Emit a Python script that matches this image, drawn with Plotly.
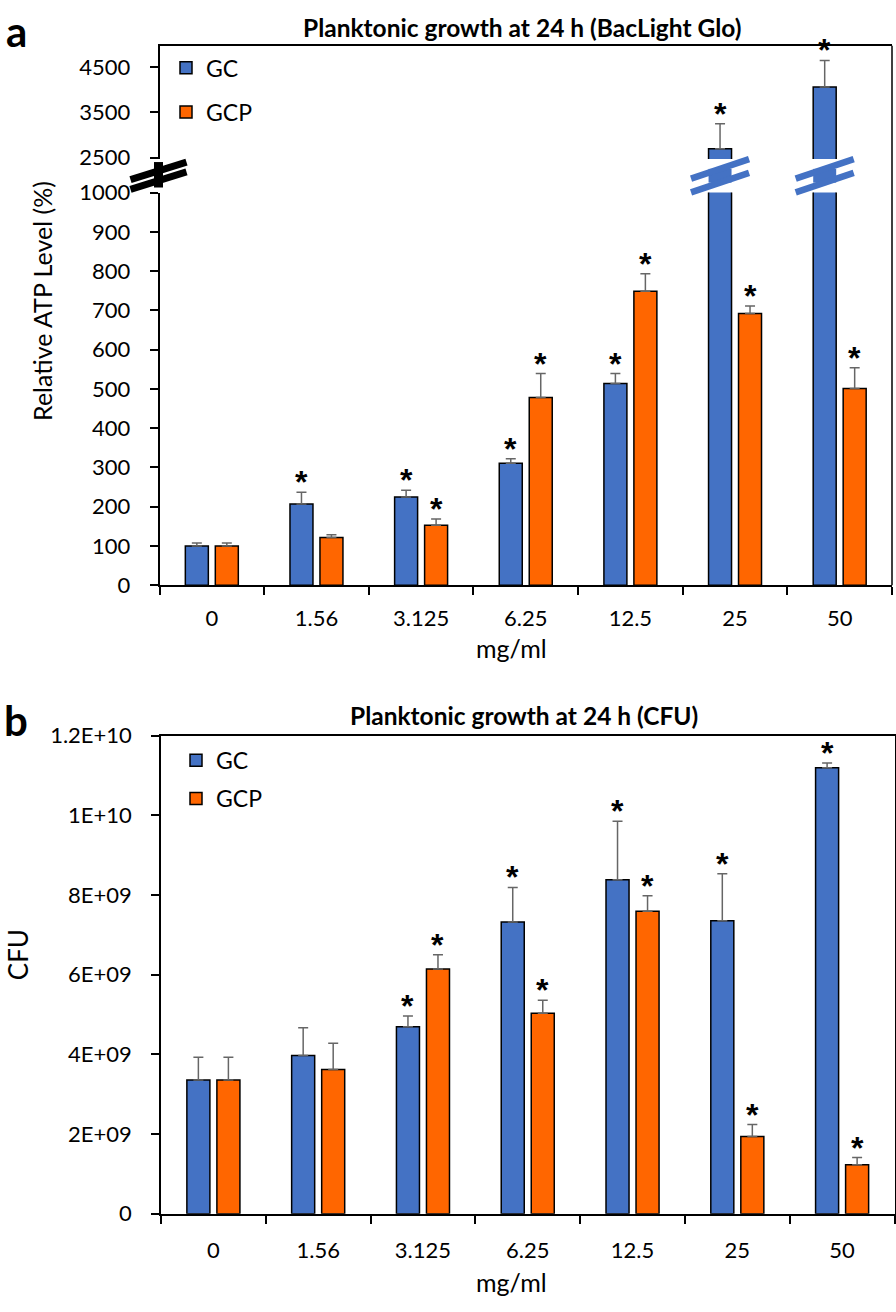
import plotly.graph_objects as go

# concentrations (mg/ml)
conc = ["0", "1.56", "3.125", "6.25", "12.5", "25", "50"]

# panel a: relative ATP level (%)
atp_gc = [100, 207, 225, 311, 514, 2700, 4060]
atp_gc_err = [8, 30, 17, 11, 25, 550, 590]
atp_gcp = [100, 122, 153, 478, 749, 692, 501]
atp_gcp_err = [8, 7, 16, 61, 44, 19, 53]
atp_gc_sig = [False, True, True, True, True, True, True]
atp_gcp_sig = [False, False, True, True, True, True, True]

# panel b: CFU
cfu_gc = [3.36e9, 3.97e9, 4.69e9, 7.32e9, 8.38e9, 7.35e9, 11.19e9]
cfu_gc_err = [0.57e9, 0.70e9, 0.27e9, 0.87e9, 1.47e9, 1.18e9, 0.12e9]
cfu_gcp = [3.36e9, 3.62e9, 6.14e9, 5.03e9, 7.59e9, 1.94e9, 1.23e9]
cfu_gcp_err = [0.57e9, 0.66e9, 0.36e9, 0.33e9, 0.39e9, 0.30e9, 0.18e9]
cfu_gc_sig = [False, False, True, True, True, True, True]
cfu_gcp_sig = [False, False, True, True, True, True, True]

cfu_ticks = [0, 2e9, 4e9, 6e9, 8e9, 1e10, 1.2e10]
cfu_ticktext = ["0", "2E+09", "4E+09", "6E+09", "8E+09", "1E+10", "1.2E+10"]

BLUE = "#4472C4"
ORANGE = "#FF6600"
ERR = "#666666"
FONT = "Lato"
STAR_FONT = "Liberation Sans"
W, H = 896, 1312

LOW_MAX = 1000
UP_RANGE = [2472, 4976]


def px(x):
    return x / W


def py(y):
    return 1 - y / H


# layout positions in pixels
A_LEFT, A_RIGHT = 159.5, 892
A_BOT, A_LOWTOP, A_UPBOT, A_TOP = 583.3, 182.3, 148, 32.3
B_LEFT, B_RIGHT = 161, 894.5
B_BOT, B_TOP = 1225, 736.7

fig = go.Figure()


def bar(name, xs, ys, errs, color, xaxis, yaxis, legend, show):
    fig.add_trace(go.Bar(
        x=xs, y=ys, name=name, marker=dict(color=color, line=dict(color="black", width=1.5)),
        error_y=dict(type="data", array=errs, arrayminus=[0] * len(errs), symmetric=False,
                     color=ERR, thickness=1.5, width=5),
        xaxis=xaxis, yaxis=yaxis, legend=legend, showlegend=show, offsetgroup=name,
    ))


# panel a, lower segment (0-1000)
low_gc_err = [e if v <= LOW_MAX else 0 for v, e in zip(atp_gc, atp_gc_err)]
low_gcp_err = [e if v <= LOW_MAX else 0 for v, e in zip(atp_gcp, atp_gcp_err)]
bar("GC", conc, atp_gc, low_gc_err, BLUE, "x", "y", "legend", True)
bar("GCP", conc, atp_gcp, low_gcp_err, ORANGE, "x", "y", "legend2", True)
# panel a, upper segment
up_gc_err = [e if v > LOW_MAX else 0 for v, e in zip(atp_gc, atp_gc_err)]
up_gcp_err = [e if v > LOW_MAX else 0 for v, e in zip(atp_gcp, atp_gcp_err)]
bar("GC", conc, atp_gc, up_gc_err, BLUE, "x2", "y2", "legend", False)
bar("GCP", conc, atp_gcp, up_gcp_err, ORANGE, "x2", "y2", "legend2", False)
# panel b
bar("GC", conc, cfu_gc, cfu_gc_err, BLUE, "x3", "y3", "legend3", True)
bar("GCP", conc, cfu_gcp, cfu_gcp_err, ORANGE, "x3", "y3", "legend4", True)

tickfont = dict(family=FONT, size=22, color="black")
axis_common = dict(showline=True, linecolor="black", linewidth=1.5, ticks="outside",
                   ticklen=8, tickcolor="black", tickwidth=1.5, tickfont=tickfont,
                   showgrid=False, zeroline=False)

fig.update_layout(
    width=W, height=H, autosize=False,
    margin=dict(l=0, r=0, t=0, b=0),
    paper_bgcolor="white", plot_bgcolor="white",
    barmode="group", bargap=0.427, bargroupgap=0.233,
    font=dict(family=FONT, color="black"),
    xaxis=dict(domain=[px(A_LEFT), px(A_RIGHT)], anchor="y", type="category",
               tickson="boundaries", ticklabelstandoff=13, **axis_common),
    xaxis2=dict(domain=[px(A_LEFT), px(A_RIGHT)], anchor="y2", matches="x", side="top",
                showline=True, linecolor="black", linewidth=1.5, showticklabels=False,
                ticks="", showgrid=False, zeroline=False),
    yaxis=dict(domain=[py(A_BOT), py(A_LOWTOP)], anchor="x", range=[0, LOW_MAX],
               dtick=100, ticklabelstandoff=15, **axis_common),
    yaxis2=dict(domain=[py(A_UPBOT), py(A_TOP)], anchor="x2", range=UP_RANGE,
                tick0=2500, dtick=1000, ticklabelstandoff=15, **axis_common),
    xaxis3=dict(domain=[px(B_LEFT), px(B_RIGHT)], anchor="y3", type="category",
                tickson="boundaries", mirror=True, ticklabelstandoff=16, **axis_common),
    yaxis3=dict(domain=[py(B_BOT), py(B_TOP)], anchor="x3", range=[0, 1.2e10],
                tickvals=cfu_ticks, ticktext=cfu_ticktext, mirror=True,
                ticklabelstandoff=15, **axis_common),
)

legend_style = dict(font=dict(family=FONT, size=23, color="black"), bgcolor="rgba(0,0,0,0)",
                    xanchor="left", yanchor="middle", itemwidth=30)
fig.update_layout(
    legend=dict(x=px(166), y=py(55), **legend_style),
    legend2=dict(x=px(166), y=py(100), **legend_style),
    legend3=dict(x=px(176), y=py(762), **legend_style),
    legend4=dict(x=px(176), y=py(801), **legend_style),
)

ann = []
# titles and labels
ann.append(dict(text="<b>Planktonic growth at 24 h (BacLight Glo)</b>", x=px(522), y=py(14),
                font=dict(size=24.5)))
ann.append(dict(text="<b>Planktonic growth at 24 h (CFU)</b>", x=px(524), y=py(716),
                font=dict(size=24.5)))
ann.append(dict(text="Relative ATP Level (%)", x=px(42), y=py(293), textangle=-90,
                font=dict(size=25)))
ann.append(dict(text="CFU", x=px(18), y=py(961), textangle=-90, font=dict(size=26)))
ann.append(dict(text="mg/ml", x=px(511), y=py(647), font=dict(size=25)))
ann.append(dict(text="mg/ml", x=px(511), y=py(1295), font=dict(size=25)))
ann.append(dict(text="<b>a</b>", x=px(16), y=py(17), font=dict(size=42)))
ann.append(dict(text="<b>b</b>", x=px(16), y=py(721), font=dict(size=42)))
for a in ann:
    a.update(xref="paper", yref="paper", showarrow=False, xanchor="center", yanchor="middle")

# significance stars above the error bars
OFF = (1 - 0.427) / 4  # half a slot of the grouped bars, in category units


def stars(vals, errs, sig, shift, xref, yref_fn):
    for i, (v, e, s) in enumerate(zip(vals, errs, sig)):
        if s:
            ann.append(dict(text="<b>*</b>", x=i + shift, y=v + e, xref=xref, yref=yref_fn(v),
                            showarrow=False, yanchor="middle", yshift=10,
                            font=dict(size=32, family=STAR_FONT, color="black")))


stars(atp_gc, atp_gc_err, atp_gc_sig, -OFF, "x", lambda v: "y2" if v > LOW_MAX else "y")
stars(atp_gcp, atp_gcp_err, atp_gcp_sig, OFF, "x", lambda v: "y2" if v > LOW_MAX else "y")
stars(cfu_gc, cfu_gc_err, cfu_gc_sig, -OFF, "x3", lambda v: "y3")
stars(cfu_gcp, cfu_gcp_err, cfu_gcp_sig, OFF, "x3", lambda v: "y3")

fig.update_layout(annotations=ann)

# axis break marks
shapes = []
PXU = (A_RIGHT - A_LEFT) / len(conc)  # pixels per category
BAR_HALF = OFF * (1 - 0.233)
yc = (A_UPBOT + A_LOWTOP) / 2


def bar_break(cx):
    # bar continuing between the two slashes
    shapes.append(dict(type="rect", xref="x", yref="paper", x0=cx - BAR_HALF, x1=cx + BAR_HALF,
                       y0=py(yc - 7), y1=py(yc + 7), fillcolor=BLUE, line=dict(width=0)))
    for d in (-7, 7):
        shapes.append(dict(type="line", xref="x", yref="paper",
                           x0=cx - 29 / PXU, x1=cx + 29 / PXU,
                           y0=py(yc + d + 10), y1=py(yc + d - 10),
                           line=dict(color=BLUE, width=6.5)))


for i, v in enumerate(atp_gc):
    if v > LOW_MAX:
        bar_break(i - OFF)

# break on the left axis
shapes.append(dict(type="line", xref="paper", yref="paper", x0=px(A_LEFT - 1), x1=px(A_LEFT - 1),
                   y0=py(yc - 14), y1=py(yc + 12), line=dict(color="black", width=9)))
for d in (-5, 5):
    shapes.append(dict(type="line", xref="paper", yref="paper",
                       x0=px(A_LEFT - 29), x1=px(A_LEFT + 27),
                       y0=py(yc + d + 9), y1=py(yc + d - 9),
                       line=dict(color="black", width=7)))

# right border of panel a
shapes.append(dict(type="line", xref="paper", yref="paper", x0=px(A_RIGHT), x1=px(A_RIGHT),
                   y0=py(A_BOT), y1=py(A_TOP), line=dict(color="black", width=1.5)))

fig.update_layout(shapes=shapes)

# pin the chart to the top-left corner of the page so it fills the window exactly
pin = ("document.body.style.margin='0';"
       "var d=document.getElementById('{plot_id}');"
       "d.style.position='absolute';d.style.top='0px';d.style.left='0px';")
fig.write_html("out.html", post_script=pin, config={"displayModeBar": False})
